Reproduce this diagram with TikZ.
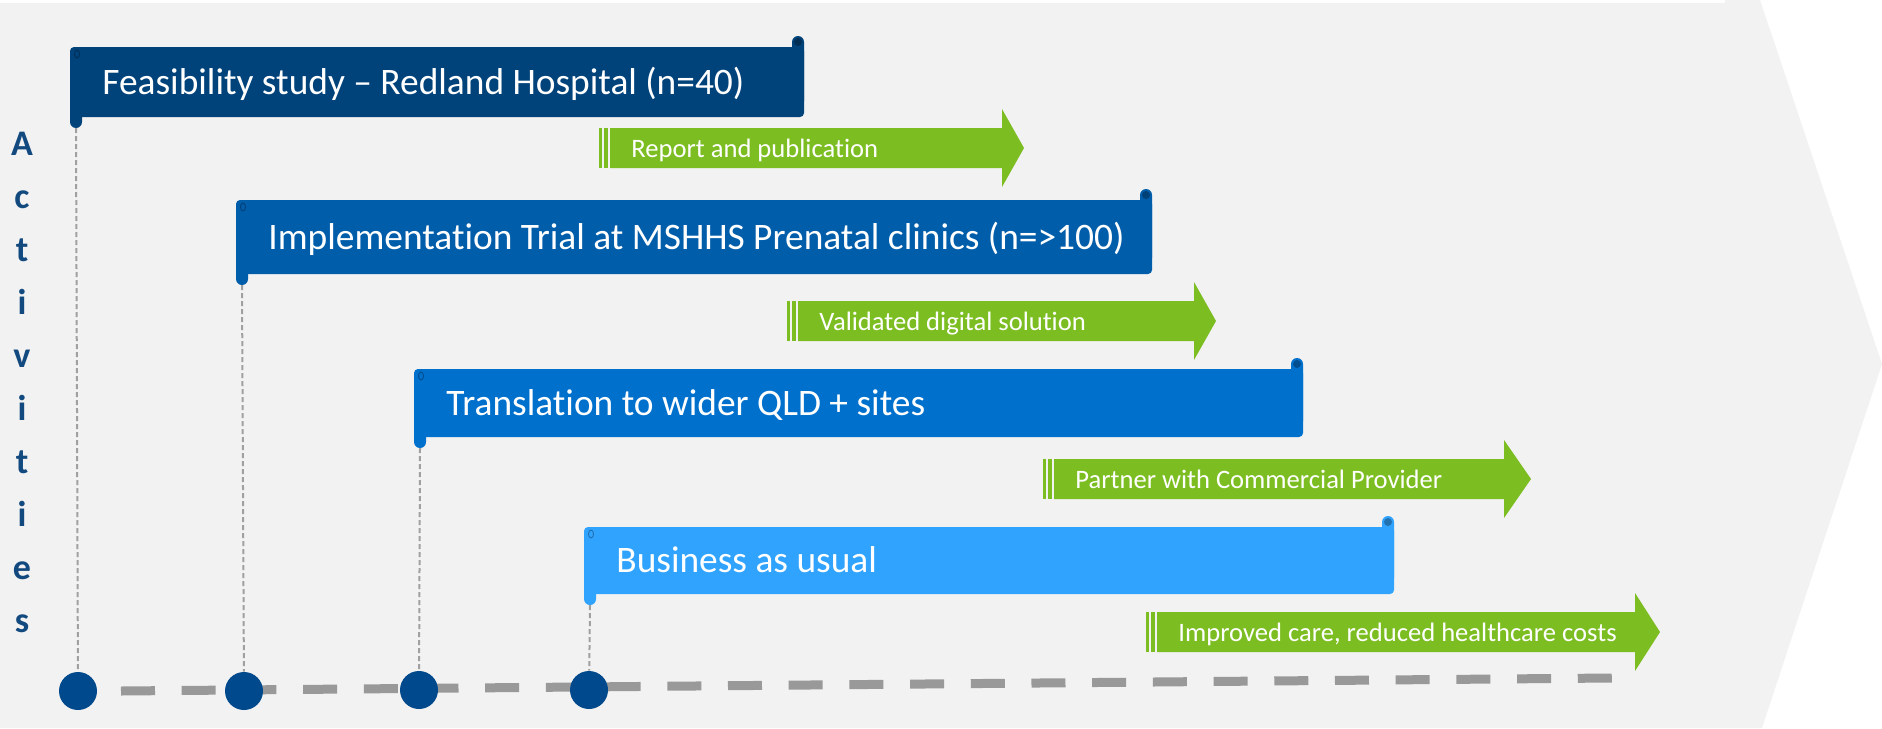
\documentclass[tikz,border=0pt]{standalone}
\usepackage{fontspec}
\setmainfont{Carlito}[Ligatures=NoCommon]
\definecolor{bggray}{HTML}{F2F2F2}
\definecolor{bnA}{HTML}{00427A}
\definecolor{bnB}{HTML}{005DAA}
\definecolor{bnC}{HTML}{0070CD}
\definecolor{bnD}{HTML}{30A3FF}
\definecolor{arrgreen}{HTML}{7CBE22}
\definecolor{dotblue}{HTML}{00498C}
\definecolor{actblue}{HTML}{124A80}
\definecolor{guidegray}{HTML}{A0A0A0}
\definecolor{tlgray}{HTML}{999999}
\begin{document}
\begin{tikzpicture}[x=0.5pt,y=-0.5pt,
  bannertext/.style={text=white, font=\fontsize{18.7}{22}\selectfont, anchor=base west, inner sep=0pt},
  greentext/.style={text=white, font=\fontsize{13.3}{16}\selectfont, anchor=base west, inner sep=0pt},
  dot/.style={circle, fill=dotblue, minimum size=19pt, inner sep=0pt},
  guide/.style={draw=guidegray, line width=1pt, dash pattern=on 2.5pt off 1.5pt},
  timeline/.style={draw=tlgray, line width=4.5pt, dash pattern=on 17pt off 13.35pt},
  letter/.style={text=actblue, font=\bfseries\fontsize{18}{20}\selectfont, anchor=base, inner sep=0pt}]
\useasboundingbox (0,0) rectangle (1882,728);
% background chevron
\fill[bggray] (0,0) -- (1760,0) -- (1882,364) -- (1762,728) -- (0,728) -- cycle;
\fill[white] (0,0) rectangle (1725,3);
% timeline
\coordinate (tl0) at (121,691);
\coordinate (tl1) at (1612,678);
\draw[timeline] (tl0) -- (tl1);
% banners
\foreach \xa/\ya/\xb/\yb/\col/\nm/\txt in {
  70/47/804/117/bnA/b1/{Feasibility study – Redland Hospital (n=40)},
  236/200/1152/274/bnB/b2/{Implementation Trial at MSHHS Prenatal clinics (n=>100)},
  414/369/1303/437/bnC/b3/{Translation to wider QLD + sites},
  584/527/1394/594/bnD/b4/{Business as usual}}{
  \fill[\col, rounded corners=2pt] (\xa,\ya) rectangle (\xb,\yb);
  \fill[\col, rounded corners=3pt] (\xa,\ya+10) rectangle (\xa+12,\yb+11);
  \fill[\col, rounded corners=3pt] (\xb-12,\ya-11) rectangle (\xb,\yb-10);
  \draw[\col!65!black, line width=0.4pt] (\xa+7,\ya+7) ellipse (2.5 and 4);
  \fill[\col!70!black] (\xb-6,\ya-5) circle (4);
  \node[bannertext] (\nm) at (\xa+32,{(\ya+\yb)/2+12}) {\txt};
  \coordinate (\nm-t) at (\xa+6,\yb+11);
}
% circles and guides
\node[dot] (c1) at (78,691) {};
\node[dot] (c2) at (244,691) {};
\node[dot] (c3) at (419,690) {};
\node[dot] (c4) at (589,690) {};
\draw[guide] (b1-t) -- (c1);
\draw[guide] (b2-t) -- (c2);
\draw[guide] (b3-t) -- (c3);
\draw[guide] (b4-t) -- (c4);
% green arrows
\foreach \xa/\xh/\xt/\yc/\nm/\txt in {
  599/1002/1024/148/g1/{Report and publication},
  787/1194/1216/321/g2/{Validated digital solution},
  1043/1504/1531/479/g3/{Partner with Commercial Provider},
  1146/1635/1660/632/g4/{Improved care, reduced healthcare costs}}{
  \fill[arrgreen] (\xa,\yc-20) rectangle (\xa+3,\yc+20);
  \fill[arrgreen] (\xa+5,\yc-20) rectangle (\xa+9,\yc+20);
  \fill[arrgreen] (\xa+11,\yc-20) -- (\xh,\yc-20) -- (\xh,\yc-39) -- (\xt,\yc)
     -- (\xh,\yc+39) -- (\xh,\yc+20) -- (\xa+11,\yc+20) -- cycle;
  \node[greentext] (\nm) at (\xa+32,\yc+9) {\txt};
}
% Activities
\foreach \ch [count=\i from 0] in {A,c,t,i,v,i,t,i,e,s}
  \node[letter] (L\i) at (22,155+53*\i) {\ch};
\end{tikzpicture}
\end{document}
